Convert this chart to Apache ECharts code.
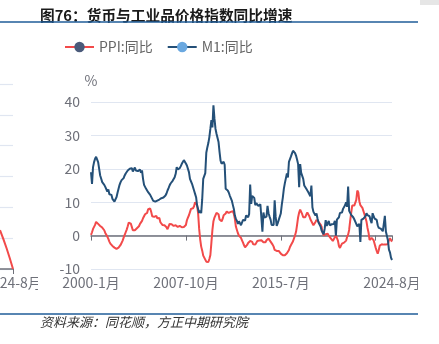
<!DOCTYPE html>
<html>
<head>
<meta charset="utf-8">
<script src="https://cdn.jsdelivr.net/npm/echarts@6/dist/echarts.min.js"></script>
<style>
html,body{margin:0;padding:0;background:#fff;}
#c{width:439px;height:344px;}
</style>
</head>
<body>
<div id="c"></div>
<script>
// ---- data ----
const startYear = 2000, endYear = 2024, endMonth = 8;
const categories = [];
for (let y = startYear; y <= endYear; y++) {
  for (let m = 1; m <= 12; m++) {
    if (y === endYear && m > endMonth) break;
    categories.push(y + '-' + m + '月');
  }
}
const yTicks = { min: -10, max: 40, interval: 10 };

// PPI: 同比 (%), monthly 2000-1 .. 2024-8
const ppi = [
  0.2, 1.0, 2.0, 2.5, 3.2, 4.1, 3.8, 3.5, 3.3, 2.9, 2.6, 2.4,
  2.2, 1.6, 0.8, 0.3, -0.3, -1.0, -1.8, -2.4, -2.7, -3.1, -3.4, -3.6,
  -3.8, -4.0, -3.9, -3.6, -3.3, -2.8, -2.3, -1.5, -0.6, 0.2, 1.0, 1.8,
  2.8, 3.9, 4.4, 3.6, 2.6, 1.6, 1.3, 1.6, 2.0, 2.2, 2.5, 2.8,
  3.5, 3.9, 4.4, 5.2, 5.8, 6.4, 6.4, 6.8, 7.9, 8.4, 8.1, 7.1,
  5.8, 5.4, 5.6, 5.8, 5.9, 5.2, 5.2, 5.3, 4.0, 3.7, 3.2, 3.2,
  3.1, 3.0, 2.5, 1.9, 2.4, 3.5, 3.6, 3.4, 3.5, 2.9, 2.8, 3.1,
  3.3, 2.6, 2.7, 2.9, 2.8, 2.5, 2.4, 2.6, 2.7, 3.2, 4.6, 5.4,
  6.1, 6.6, 8.0, 8.1, 8.2, 8.8, 10.0, 10.1, 9.1, 6.6, 2.0, -1.1,
  -3.3, -4.5, -6.0, -6.6, -7.2, -7.8, -8.2, -7.9, -7.0, -5.8, -2.1, 1.7,
  4.3, 5.4, 5.9, 6.8, 7.1, 6.4, 4.8, 4.3, 4.3, 5.0, 6.1, 5.9,
  6.6, 7.2, 7.3, 6.8, 6.8, 7.1, 7.5, 7.3, 6.5, 5.0, 2.7, 1.7,
  0.7, 0.0, -0.3, -0.7, -1.4, -2.1, -2.9, -3.5, -3.6, -2.8, -2.2, -1.9,
  -1.6, -1.6, -1.9, -2.6, -2.9, -2.7, -2.3, -1.6, -1.3, -1.5, -1.4, -1.4,
  -1.6, -2.0, -2.3, -2.0, -1.4, -1.1, -0.9, -1.2, -1.8, -2.2, -2.7, -3.3,
  -4.3, -4.8, -4.6, -4.6, -4.6, -4.8, -5.4, -5.9, -5.9, -5.9, -5.9, -5.9,
  -5.3, -4.9, -4.3, -3.4, -2.8, -2.6, -1.7, -0.8, 0.1, 1.2, 3.3, 5.5,
  6.9, 7.8, 7.6, 6.4, 5.5, 5.5, 5.5, 6.3, 6.9, 6.9, 5.8, 4.9,
  4.3, 3.7, 3.1, 3.4, 4.1, 4.7, 4.6, 4.1, 3.6, 3.3, 2.7, 0.9,
  0.1, 0.1, 0.4, 0.9, 0.6, 0.0, -0.3, -0.8, -1.2, -1.6, -1.4, -0.5,
  0.1, -0.4, -1.5, -3.1, -3.7, -3.0, -2.4, -2.0, -2.1, -2.1, -1.5, -0.4,
  0.3, 1.7, 4.4, 6.8, 9.0, 8.8, 9.0, 9.5, 10.7, 13.5, 12.9, 10.3,
  9.1, 8.8, 8.3, 8.0, 6.4, 6.1, 4.2, 2.3, 0.9, -1.3, -1.3, -0.7,
  -0.8, -1.4, -2.5, -3.6, -4.6, -5.4, -4.4, -3.0, -2.5, -2.6, -3.0, -2.7,
  -2.5, -2.7, -2.8, -2.5, -1.4, -0.8, -0.8, -1.8
];

// M1: 同比 (%), monthly 2000-1 .. 2024-8
const m1 = [
  19.0, 15.5, 20.5, 22.0, 23.0, 23.6, 23.2, 22.0, 20.0, 18.0, 17.0, 16.0,
  16.0, 15.2, 14.6, 15.0, 13.2, 13.8, 12.4, 12.8, 12.2, 11.0, 11.5, 10.2,
  10.5, 11.5, 12.8, 14.0, 15.2, 16.0, 16.6, 17.0, 17.2, 18.0, 18.6, 19.0,
  19.5, 19.0, 20.0, 19.6, 20.2, 19.2, 19.8, 20.4, 19.5, 19.9, 19.3, 19.6,
  19.8, 18.8, 19.5, 17.0, 15.2, 14.6, 14.0, 13.6, 13.0, 12.6, 12.2, 12.0,
  11.0, 10.4, 10.0, 10.2, 10.4, 10.5, 10.9, 10.8, 11.3, 11.2, 11.6, 11.4,
  11.6, 12.0, 12.6, 13.5, 14.2, 15.0, 15.6, 16.0, 16.4, 16.6, 17.5, 18.5,
  20.5, 19.8, 19.6, 20.2, 20.8, 21.5, 22.0, 22.6, 22.2, 21.6, 21.0, 20.6,
  19.0, 17.0, 17.5, 15.5, 15.0, 13.5, 12.5, 11.5, 9.0, 8.5, 6.8, 7.5,
  6.7, 10.9, 17.0, 17.5, 18.7, 24.8, 26.4, 27.7, 29.5, 32.0, 34.6, 32.4,
  39.0, 35.0, 32.0, 30.5, 30.0, 28.0, 25.0, 22.4, 21.5, 21.9, 22.1, 21.2,
  14.0, 14.5, 13.5, 12.9, 12.0, 11.6, 10.5, 9.2, 8.0, 6.0, 5.0, 4.4,
  3.5, 4.3, 4.4, 3.1, 3.5, 4.7, 4.6, 4.5, 6.0, 6.1, 5.5, 6.5,
  15.3, 9.5, 11.9, 11.9, 11.3, 9.1, 9.7, 9.9, 8.9, 8.9, 9.4, 9.3,
  1.2, 6.9, 5.4, 5.3, 5.7, 8.9, 6.7, 5.7, 4.8, 3.2, 3.2, 3.2,
  10.6, 5.6, 2.9, 3.7, 4.7, 4.3, 6.6, 9.3, 11.4, 14.0, 15.7, 15.2,
  18.6, 17.4, 22.1, 22.9, 23.7, 24.6, 25.4, 25.3, 24.7, 23.9, 22.7, 21.4,
  14.5, 21.4, 18.8, 18.5, 17.0, 15.0, 15.3, 14.0, 14.0, 13.0, 12.7, 11.8,
  15.0, 8.5, 7.1, 7.2, 6.0, 6.6, 5.1, 3.9, 4.0, 2.7, 1.5, 1.5,
  0.4, 2.0, 4.6, 2.9, 3.4, 4.4, 3.1, 3.4, 3.4, 3.3, 3.5, 4.4,
  0.0, 4.8, 5.0, 5.5, 6.8, 6.5, 6.9, 8.0, 8.1, 9.1, 10.0, 8.6,
  14.7, 7.4, 7.1, 6.2, 6.1, 5.5, 4.9, 4.2, 3.7, 2.8, 3.0, 3.5,
  -1.9, 4.7, 4.7, 5.1, 4.6, 5.8, 6.7, 6.1, 6.4, 5.8, 4.6, 3.7,
  6.7, 5.8, 5.1, 5.3, 4.7, 3.1, 2.3, 2.2, 2.1, 1.9, 1.3, 1.3,
  5.9, 1.2, 1.1, -1.4, -4.2, -5.0, -6.6, -7.3
];

// fragment of the neighbouring chart visible at the left edge
const fragCategories = ['2024-6月', '2024-7月', '2024-8月'];
const fragValues = [1.26, 0.68, 0.0];
const fragTicks = { min: 0, max: 6, interval: 1 };

// ---- chart ----
const FONT = '"Noto Sans CJK SC", "Noto Sans", sans-serif';
const RED = '#f24a4a', BLUE = '#245078';
const labelEvery = 93, last = categories.length - 1;

const chart = echarts.init(document.getElementById('c'), null, { renderer: 'canvas' });
chart.setOption({
  animation: false,
  backgroundColor: '#ffffff',
  textStyle: { fontFamily: FONT },
  title: {
    text: '图76：货币与工业品价格指数同比增速',
    left: 35, top: 3,
    textStyle: { fontSize: 14.7, fontWeight: 'bold', color: '#1a1a1a', fontFamily: FONT }
  },
  legend: {
    data: ['PPI:同比', 'M1:同比'],
    left: 59, top: 35,
    itemWidth: 29, itemHeight: 13, itemGap: 14,
    textStyle: { fontSize: 14, color: '#666666', fontFamily: FONT }
  },
  grid: [
    { left: 91, right: 47, top: 102, bottom: 75, containLabel: false, outerBoundsMode: 'none' },
    { left: 0, width: 13, top: 84, bottom: 75, containLabel: false, outerBoundsMode: 'none' }
  ],
  xAxis: [
    {
      type: 'category', gridIndex: 0, data: categories, boundaryGap: false,
      axisLine: { lineStyle: { color: '#6e7079', width: 1.5 } },
      axisTick: { length: 5, interval: (i) => i % labelEvery === 0 || i === last },
      axisLabel: {
        interval: (i) => (i % labelEvery === 0 && i < 3 * labelEvery) || i === last,
        fontSize: 14, color: '#6e7079', margin: 7, fontFamily: FONT
      }
    },
    {
      type: 'category', gridIndex: 1, data: fragCategories, boundaryGap: false,
      axisLine: { lineStyle: { color: '#6e7079', width: 1.5 } },
      axisTick: { length: 5, interval: (i) => i === fragCategories.length - 1 },
      axisLabel: {
        interval: (i) => i === fragCategories.length - 1,
        fontSize: 14, color: '#6e7079', margin: 7, fontFamily: FONT
      }
    }
  ],
  yAxis: [
    {
      type: 'value', gridIndex: 0, min: yTicks.min, max: yTicks.max, interval: yTicks.interval,
      name: '%', nameGap: 14,
      nameTextStyle: { fontSize: 14, color: '#6e7079', fontFamily: FONT },
      axisLine: { show: false }, axisTick: { show: false },
      axisLabel: { fontSize: 14, color: '#6e7079', margin: 11, fontFamily: FONT },
      splitLine: { lineStyle: { color: '#e0e6f1', width: 1.2 } }
    },
    {
      type: 'value', gridIndex: 1, min: fragTicks.min, max: fragTicks.max, interval: fragTicks.interval,
      axisLine: { show: false }, axisTick: { show: false }, axisLabel: { show: false },
      splitLine: { lineStyle: { color: '#e0e6f1', width: 1.2 } }
    }
  ],
  series: [
    {
      name: 'PPI:同比', type: 'line', xAxisIndex: 0, yAxisIndex: 0, data: ppi,
      symbol: 'circle', showSymbol: false,
      lineStyle: { color: RED, width: 2 },
      itemStyle: { color: '#4a5a7a' }
    },
    {
      name: 'M1:同比', type: 'line', xAxisIndex: 0, yAxisIndex: 0, data: m1,
      symbol: 'circle', showSymbol: false,
      lineStyle: { color: BLUE, width: 2 },
      itemStyle: { color: '#6aa8e0' }
    },
    {
      name: 'frag', type: 'line', xAxisIndex: 1, yAxisIndex: 1, data: fragValues,
      symbol: 'none', smooth: true, lineStyle: { color: RED, width: 2 }, itemStyle: { color: RED }
    }
  ],
  graphic: [
    { type: 'rect', shape: { x: 38, y: 273, width: 18, height: 26 }, style: { fill: '#ffffff' }, z: 100 },
    { type: 'rect', shape: { x: 418, y: 273, width: 21, height: 26 }, style: { fill: '#ffffff' }, z: 100 },
    { type: 'rect', shape: { x: 420, y: 0, width: 19, height: 5 }, style: { fill: '#e6e6e6' }, z: 100 },
    { type: 'line', shape: { x1: 0, y1: 22, x2: 418, y2: 22 }, style: { stroke: '#1f5c99', lineWidth: 1.5 }, z: 100 },
    { type: 'line', shape: { x1: 0, y1: 314, x2: 418, y2: 314 }, style: { stroke: '#1f5c99', lineWidth: 1.5 }, z: 100 },
    {
      type: 'text', left: 40, top: 316, z: 100,
      style: { text: '资料来源：同花顺，方正中期研究院', fontSize: 13, fontStyle: 'italic', fill: '#333333', fontFamily: FONT }
    }
  ]
});
</script>
</body>
</html>
